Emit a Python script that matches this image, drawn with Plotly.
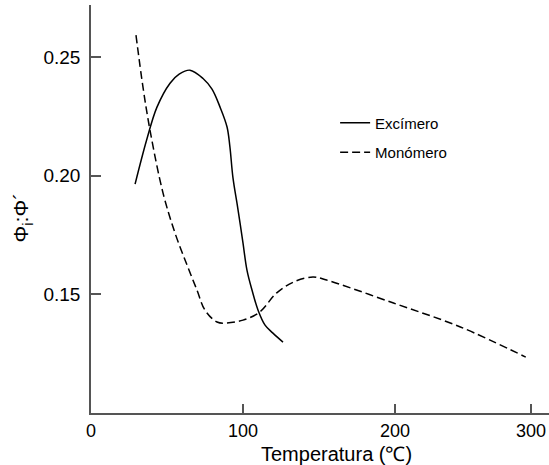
import plotly.graph_objects as go

# Temperature (°C) and quantum-yield ratio
exc_T = [29, 36.6, 43.4, 52.0, 58, 65.1, 73.7, 79.6, 84.9, 89.5, 91.4, 93.4, 96.5, 100, 102.6, 105.9, 109.9, 114.5, 119.7, 126.3]
exc_phi = [0.1964, 0.215, 0.2289, 0.2390, 0.2428, 0.2445, 0.2410, 0.2365, 0.2289, 0.2205, 0.2120, 0.1990, 0.1865, 0.1715, 0.1601, 0.1517, 0.1432, 0.1369, 0.1335, 0.1297]

mono_T = [29.6, 34.2, 38.8, 47.4, 55.3, 63.2, 69.7, 75, 82.9, 89.5, 100, 111, 122, 133, 146, 155, 199, 243, 286]
mono_phi = [0.2593, 0.2373, 0.2192, 0.1926, 0.1757, 0.1622, 0.1517, 0.1432, 0.1382, 0.1378, 0.1390, 0.1424, 0.1504, 0.1550, 0.1572, 0.1559, 0.1462, 0.1361, 0.1234]

x_tickvals = [0, 100, 200, 289.5]
x_ticktext = ["0", "100", "200", "300"]
y_tickvals = [0.15, 0.20, 0.25]
y_ticktext = ["0.15", "0.20", "0.25"]

FONT = "Arial, Liberation Sans, sans-serif"
AX = "#555555"

fig = go.Figure()
fig.add_trace(go.Scatter(x=exc_T, y=exc_phi, mode="lines", name="Excímero",
                         line=dict(color="black", width=1.5, shape="spline", smoothing=1.0),
                         legendgroup="a"))
fig.add_trace(go.Scatter(x=mono_T, y=mono_phi, mode="lines", name="Monómero",
                         line=dict(color="black", width=1.5, dash="8px,4px", shape="spline", smoothing=1.0),
                         legendgroup="b"))

fig.update_layout(
    width=549, height=465,
    margin=dict(l=91, r=0, t=5, b=52),
    paper_bgcolor="white", plot_bgcolor="white",
    font=dict(family=FONT, color="black"),
    showlegend=True,
    legend=dict(x=0.533, y=0.751, xanchor="left", yanchor="top",
                font=dict(size=15, family=FONT), traceorder="grouped",
                tracegroupgap=7, bgcolor="rgba(0,0,0,0)"),
    xaxis=dict(range=[0, 301.3], showgrid=False, zeroline=False,
               showline=True, linecolor=AX, linewidth=1.5,
               ticks="inside", ticklen=9, tickwidth=1.5, tickcolor=AX,
               tickvals=x_tickvals, ticktext=x_ticktext,
               tickfont=dict(size=18, family=FONT), ticklabelstandoff=1),
    yaxis=dict(range=[0.0998, 0.272], showgrid=False, zeroline=False,
               showline=True, linecolor=AX, linewidth=1.5,
               ticks="inside", ticklen=10, tickwidth=1.5, tickcolor=AX,
               tickvals=y_tickvals, ticktext=y_ticktext,
               tickfont=dict(size=19, family=FONT), ticklabelstandoff=5),
    annotations=[
        dict(text="Temperatura (℃)", xref="paper", yref="paper",
             x=0.535, y=-0.1, xanchor="center", yanchor="middle",
             showarrow=False, font=dict(size=20, family=FONT)),
        dict(text="Φ<sub>i</sub>:Φ´", xref="paper", yref="paper",
             x=-0.15, y=0.48, xanchor="center", yanchor="middle",
             textangle=-90, showarrow=False, font=dict(size=21, family=FONT)),
    ],
)

fig.write_html("out.html")
